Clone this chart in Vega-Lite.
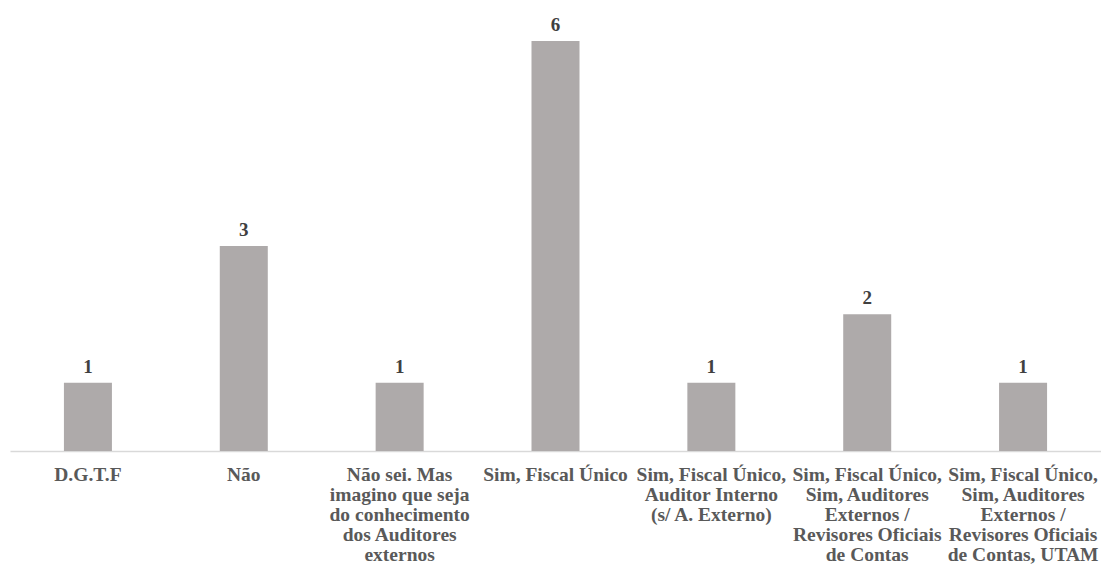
{
  "$schema": "https://vega.github.io/schema/vega-lite/v6.json",
  "autosize": {"type": "none"},
  "padding": {"left": 10, "top": 0, "right": 0, "bottom": 121},
  "width": 1091,
  "height": 451,
  "background": "white",
  "data": {
    "values": [
      {"category": "D.G.T.F", "count": 1},
      {"category": "Não", "count": 3},
      {"category": "Não sei. Mas|imagino que seja|do conhecimento|dos Auditores|externos", "count": 1},
      {"category": "Sim, Fiscal Único", "count": 6},
      {"category": "Sim, Fiscal Único,|Auditor Interno|(s/ A. Externo)", "count": 1},
      {"category": "Sim, Fiscal Único,|Sim, Auditores|Externos /|Revisores Oficiais|de Contas", "count": 2},
      {"category": "Sim, Fiscal Único,|Sim, Auditores|Externos /|Revisores Oficiais|de Contas, UTAM", "count": 1}
    ]
  },
  "config": {"view": {"stroke": null}},
  "encoding": {
    "x": {
      "field": "category",
      "type": "nominal",
      "sort": null,
      "scale": {"paddingInner": 0.692, "paddingOuter": 0.346},
      "axis": {
        "title": null,
        "labelAngle": 0,
        "labelExpr": "split(datum.value, '|')",
        "labelFont": "Liberation Serif",
        "labelFontWeight": "bold",
        "labelFontSize": 19.5,
        "labelLineHeight": 20,
        "labelColor": "#595959",
        "labelPadding": 14,
        "labelLimit": 0,
        "labelOverlap": false,
        "ticks": false,
        "domainColor": "#d9d9d9",
        "domainWidth": 1.5
      }
    },
    "y": {
      "field": "count",
      "type": "quantitative",
      "scale": {"domain": [0, 6.6]},
      "axis": null
    }
  },
  "layer": [
    {"mark": {"type": "bar", "color": "#aeaaaa"}},
    {
      "mark": {"type": "text", "dy": -16, "font": "Liberation Serif", "fontWeight": "bold", "fontSize": 19, "color": "#404040"},
      "encoding": {"text": {"field": "count", "type": "quantitative"}}
    }
  ]
}
